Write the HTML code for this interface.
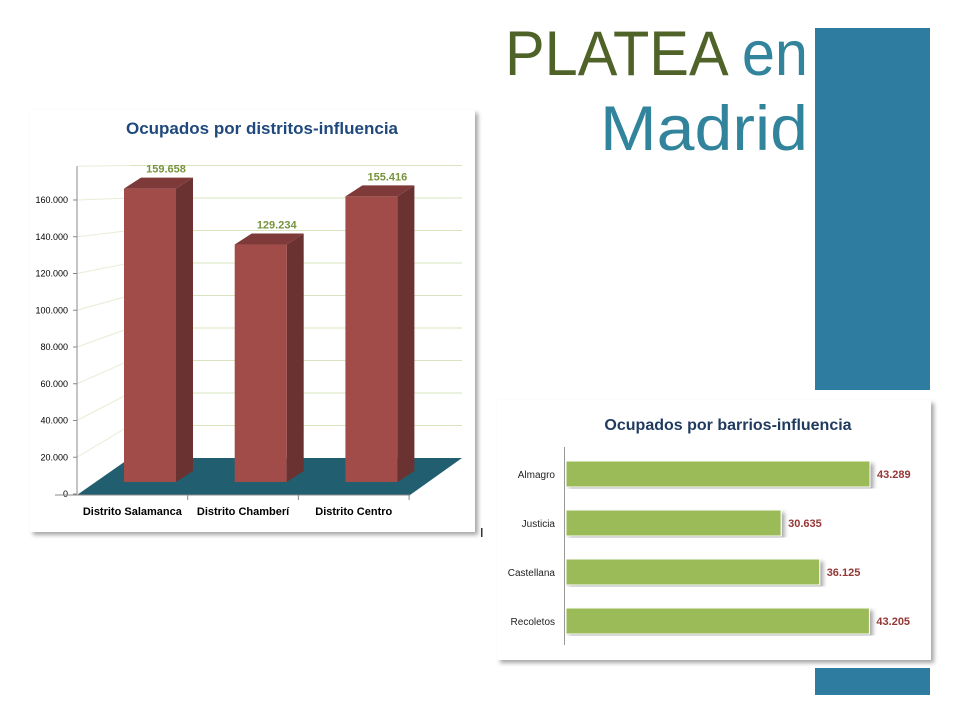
<!DOCTYPE html>
<html><head><meta charset="utf-8"><style>
body{margin:0;background:#fff;}
svg{display:block;font-family:"Liberation Sans",sans-serif;}
</style></head><body>
<svg width="960" height="720" viewBox="0 0 960 720">
<defs>
<filter id="sh" x="-5%" y="-5%" width="110%" height="110%"><feDropShadow dx="3" dy="3" stdDeviation="2" flood-color="#000" flood-opacity="0.35"/></filter>
</defs>
<text x="505" y="75" font-size="63" textLength="303" lengthAdjust="spacingAndGlyphs"><tspan fill="#4f6228">PLATEA</tspan><tspan fill="#31849b"> en</tspan></text>
<text x="600" y="150" font-size="63" fill="#31849b" textLength="208" lengthAdjust="spacingAndGlyphs">Madrid</text>
<rect x="815" y="28" width="115" height="362" fill="#2e7ca0"/>
<rect x="815" y="668" width="115" height="27" fill="#2e7ca0"/>

<g id="c1">
<rect x="30" y="110" width="445" height="422" fill="#fff" filter="url(#sh)"/>
<text x="262" y="134" font-size="17" font-weight="bold" fill="#1f497d" text-anchor="middle">Ocupados por distritos-influencia</text>
<g id="grid1"></g>
<g id="bars1"></g>
</g>

<g id="c2">
<rect x="497" y="400" width="434" height="260" fill="#fff" filter="url(#sh)"/>
<text x="728" y="430" font-size="16" font-weight="bold" fill="#1f3a5f" text-anchor="middle">Ocupados  por barrios-influencia</text>
<line x1="564.5" y1="447" x2="564.5" y2="645" stroke="#999"/>
<g id="bars2"></g>
</g>
<rect x="481" y="528" width="1.5" height="9" fill="#333"/>
</svg>
<script>
const ns="http://www.w3.org/2000/svg";
const distCats=["Distrito Salamanca","Distrito Chamberí","Distrito Centro"];
const distVals=[159658,129234,155416];
const distLabels=["159.658","129.234","155.416"];
const yTicks=[0,20000,40000,60000,80000,100000,120000,140000,160000];
const yTickLabels=["0","20.000","40.000","60.000","80.000","100.000","120.000","140.000","160.000"];
const barrioCats=["Almagro","Justicia","Castellana","Recoletos"];
const barrioVals=[43289,30635,36125,43205];
const barrioLabels=["43.289","30.635","36.125","43.205"];

function mk(t,a,p){const e=document.createElementNS(ns,t);for(const k in a)e.setAttribute(k,a[k]);p.appendChild(e);return e;}
const yFront=v=>494-v*294/160000;
const yBack=v=>458-v*(260/160000);
const barBase=v=>482-v*294/160000;
const g1=document.getElementById('grid1');
mk('line',{x1:130,y1:yBack(180000),x2:462,y2:yBack(180000),stroke:"#d7e4bd"},g1);
mk('line',{x1:77,y1:yFront(180000)+3,x2:130,y2:yBack(180000),stroke:"#e6edd6"},g1);
yTicks.forEach((v,i)=>{
  if(v>0){
    const l=mk('line',{x1:130,y1:yBack(v),x2:462,y2:yBack(v),stroke:"#d7e4bd"},g1);
    
    
    mk('line',{x1:77,y1:yFront(v),x2:130,y2:yBack(v),stroke:"#e6edd6"},g1);
  }
  const t=mk('text',{x:68,y:yFront(v)+3,'font-size':9,'text-anchor':'end',fill:'#000'},g1);
  t.textContent=yTickLabels[i];
  
  
  mk('line',{x1:73,y1:yFront(v),x2:77,y2:yFront(v),stroke:"#888"},g1);
});
mk('line',{x1:77,y1:yFront(0),x2:77,y2:yFront(180000)+3,stroke:"#888"},g1);
const floor=mk('polygon',{points:"77,495 410,495 462,458 130,458",fill:"#215e6f"},g1);


mk('line',{x1:55,y1:495,x2:410,y2:495,stroke:"#888"},g1);
const b1=document.getElementById('bars1');
const slot=110.7, x0=77, bw=52, dx=17, dy=11;
distCats.forEach((c,i)=>{
  const x=124+slot*i, top=barBase(distVals[i]);
  mk('line',{x1:x0+slot*(i+1),y1:495,x2:x0+slot*(i+1),y2:500,stroke:"#888"},b1);
  const side=mk('polygon',{points:`${x+bw},${top} ${x+bw+dx},${top-dy} ${x+bw+dx},${482-dy} ${x+bw},482`,fill:"#6b3232"},b1);
  
  
  const tp=mk('polygon',{points:`${x},${top} ${x+dx},${top-dy} ${x+bw+dx},${top-dy} ${x+bw},${top}`,fill:"#7d3a39"},b1);
  
  
  const r=mk('rect',{x:x,y:top,width:bw,height:482-top,fill:"#a24c4a"},b1);
  
  
  const lb=mk('text',{x:x+bw/2+16,y:top-16,'font-size':11,'font-weight':'bold',fill:'#77933c','text-anchor':'middle'},b1);
  lb.textContent=distLabels[i];
  
  
  const cl=mk('text',{x:x0+slot*i+slot/2,y:515,'font-size':11,'font-weight':'bold',fill:'#000','text-anchor':'middle'},b1);
  cl.textContent=c;
  
  
});
const xS=v=>566+v*304/43289;
const b2=document.getElementById('bars2');
barrioCats.forEach((c,i)=>{
  const y=461+i*49;
  const r=mk('rect',{x:566,y:y,width:xS(barrioVals[i])-566,height:26,fill:"#9bbb59",stroke:"#fff",'stroke-width':1,filter:"url(#sh)"},b2);
  
  
  const v=mk('text',{x:xS(barrioVals[i])+7,y:y+17,'font-size':11,'font-weight':'bold',fill:'#953735'},b2);
  v.textContent=barrioLabels[i];
  
  
  const l=mk('text',{x:555,y:y+17,'font-size':10,fill:'#222','text-anchor':'end'},b2);
  l.textContent=c;
  
  
});
</script>
</body></html>
